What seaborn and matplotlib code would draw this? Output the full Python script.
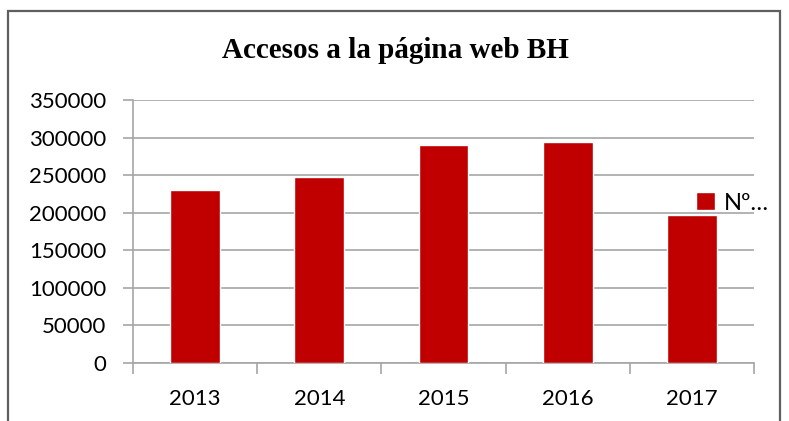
import matplotlib
matplotlib.use("Agg")
import matplotlib.pyplot as plt
import seaborn as sns
import pandas as pd
import numpy as np
from matplotlib.patches import Rectangle
from matplotlib.ticker import FixedLocator

years = ["2013", "2014", "2015", "2016", "2017"]
accesos = [230000, 247500, 289500, 293500, 197000]
yticks = [0, 50000, 100000, 150000, 200000, 250000, 300000, 350000]
title = "Accesos a la página web BH"
series_label = "Nº…"

df = pd.DataFrame({"Año": years, "Accesos": accesos})

sns.set_theme(style="white")
plt.rcParams["font.family"] = ["Lato", "DejaVu Sans"]
plt.rcParams["text.color"] = "black"

fig = plt.figure(figsize=(7.89, 4.21), dpi=100)
ax = fig.add_axes([133/789, 1-363/421, (754-133)/789, (363-100)/421])

sns.barplot(data=df, x="Año", y="Accesos", color="#c00000", width=0.4,
            saturation=1, ax=ax, label=series_label, zorder=3)

ax.set_xlim(-0.5, 4.5)
ax.set_ylim(0, 350000)
ax.set_yticks(yticks)
ax.set_yticklabels([str(v) for v in yticks], fontsize=16, color="black")
ax.set_xlabel("")
ax.set_ylabel("")
ax.grid(axis="y", color="#a6a6a6", linewidth=1.2, zorder=0)
ax.set_axisbelow(True)
for s in ["top", "right"]:
    ax.spines[s].set_visible(False)
for s in ["left", "bottom"]:
    ax.spines[s].set_color("#a6a6a6")
    ax.spines[s].set_linewidth(1.2)

ax.tick_params(axis="y", which="major", length=7, color="#a6a6a6", width=1.2,
               direction="out", left=True, pad=12)
ax.tick_params(axis="x", which="major", length=0, labelsize=16, pad=19, labelcolor="black")
ax.xaxis.set_minor_locator(FixedLocator(np.arange(-0.5, 5, 1.0)))
ax.tick_params(axis="x", which="minor", length=8, color="#a6a6a6", width=1.2,
               direction="out", bottom=True)

fig.text(395/789, 1-50/421, title, ha="center", va="center", color="black",
         fontsize=21, fontweight="bold", family=["Liberation Serif"])

leg = ax.legend(loc="center left", bbox_to_anchor=(696/789, 1-203/421),
                bbox_transform=fig.transFigure, frameon=False, fontsize=17,
                handlelength=0.8, handleheight=0.8, handletextpad=0.4,
                borderaxespad=0, borderpad=0)
for t in leg.get_texts():
    t.set_color("black")

fig.patches.append(Rectangle((8/789, -0.05), (780-8)/789, 1.05 - 11/421,
                             transform=fig.transFigure, fill=False,
                             edgecolor="#5f5f5f", linewidth=1.6, figure=fig))

fig.savefig("out.png", dpi=100, facecolor="white")
